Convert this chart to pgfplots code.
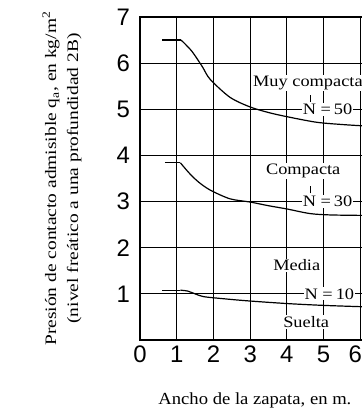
\documentclass[border=0pt]{standalone}
\usepackage{fontspec}
\setmainfont{Liberation Serif}
\newfontfamily\digfont{Liberation Sans}
\usepackage{pgfplots}
\pgfplotsset{compat=1.18}
% scanned labels look stretched along the text
\newcommand{\wide}[2][1.15]{\scalebox{#1}[1]{#2}}
\tikzset{lbl/.style={fill=white, inner sep=1bp, anchor=west, font=\fontsize{16}{18}\selectfont}}

\begin{document}
\begin{tikzpicture}
\useasboundingbox (-140bp,-73bp) rectangle (222bp,340bp);
\begin{axis}[
    at={(0,0)}, anchor=south west,
    scale only axis, width=224bp, height=323bp,
    xmin=0, xmax=6.1, ymin=0, ymax=7,
    xtick={0,...,6}, ytick={1,...,7},
    xticklabels={0,1,2,3,4,5,\kern-5bp 6\kern5bp},
    grid=major,
    major grid style={black, line width=1.2bp},
    axis line style={black, line width=1.2bp},
    major tick length=0pt,
    tick label style={font=\digfont\fontsize{24}{24}\selectfont, inner sep=0pt,
        /pgf/number format/assume math mode=true},
    xticklabel style={yshift=-6bp},
    yticklabel style={xshift=-10bp},
    clip=false,
]
% N = 50, muy compacta
\addplot[black, line width=1.2bp] coordinates {(0.6,6.5) (1.12,6.5)};
\addplot[black, line width=1.2bp, smooth] coordinates {
    (1.12,6.5) (1.41,6.26) (1.7,5.92) (1.91,5.65) (2.45,5.26) (3.0,5.05)
    (3.5,4.93) (4.0,4.84) (4.8,4.72) (5.5,4.67) (6.1,4.64)};
% N = 30, compacta
\addplot[black, line width=1.2bp] coordinates {(0.68,3.84) (1.1,3.84)};
\addplot[black, line width=1.2bp, smooth] coordinates {
    (1.1,3.84) (1.36,3.6) (1.6,3.42) (1.91,3.25) (2.45,3.06) (3.0,2.99)
    (3.5,2.91) (4.0,2.84) (4.63,2.74) (5.2,2.71) (6.1,2.7)};
% N = 10, media / suelta
\addplot[black, line width=1.2bp] coordinates {(0.6,1.08) (1.1,1.08)};
\addplot[black, line width=1.2bp, smooth] coordinates {
    (1.1,1.08) (1.3,1.06) (1.5,1.0) (1.73,0.94) (2.2,0.9) (2.91,0.85)
    (4.0,0.79) (5.0,0.75) (6.1,0.72)};

\node[lbl] at (axis cs:3.05,5.57) {\wide{Muy compacta}};
\node[lbl] at (axis cs:4.4,5.0) {\wide{N =\,50}};
\node[lbl] at (axis cs:3.4,3.67) {\wide{Compacta}};
\node[lbl] at (axis cs:4.4,3.0) {\wide{N =\,30}};
\node[lbl] at (axis cs:3.6,1.62) {\wide{Media}};
\node[lbl] at (axis cs:4.45,1.0) {\wide{N =\,10}};
\node[lbl] at (axis cs:3.87,0.39) {\wide{Suelta}};
\addplot[black, line width=0.8bp] coordinates {(4.63,5.16) (4.63,5.32)};
\addplot[black, line width=0.8bp] coordinates {(4.63,3.18) (4.63,3.34)};

\node[font=\fontsize{16}{22}\selectfont, rotate=90, align=center]
    at (axis description cs:-0.348,0.5)
    {\wide[1.22]{Presión de contacto admisible q\textsubscript{a}, en kg/m\textsuperscript{2}}\\
     \wide[1.22]{(nivel freático a una profundidad 2B)}};
\node[font=\fontsize{17}{20}\selectfont, anchor=base]
    at (axis description cs:0.513,-0.201) {\wide[1.1]{Ancho de la zapata, en m.}};
\end{axis}
\end{tikzpicture}
\end{document}
